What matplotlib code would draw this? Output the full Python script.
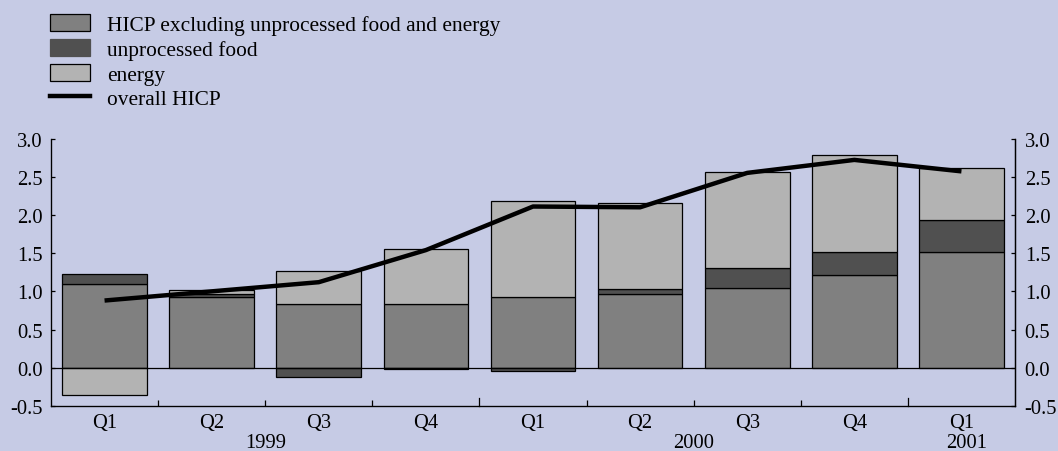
import numpy as np
import matplotlib
matplotlib.use("Agg")
import matplotlib.pyplot as plt
from matplotlib.patches import Patch
from matplotlib.lines import Line2D

# quarterly contributions (percentage points) and overall HICP
quarters = ["Q1", "Q2", "Q3", "Q4", "Q1", "Q2", "Q3", "Q4", "Q1"]
years = ["1999", "2000", "2001"]
year_pos = [1.5, 5.5, 8.05]
core = [1.10, 0.92, 0.84, 0.83, 0.92, 0.97, 1.05, 1.22, 1.51]
food = [0.13, 0.04, -0.12, -0.02, -0.04, 0.06, 0.26, 0.30, 0.42]
energy = [-0.35, 0.06, 0.42, 0.72, 1.26, 1.12, 1.25, 1.26, 0.68]
hicp = [0.88, 1.00, 1.12, 1.54, 2.11, 2.10, 2.55, 2.72, 2.57]

BG = "#C6CBE5"
C_CORE = "#808080"
C_FOOD = "#505050"
C_ENERGY = "#B3B3B3"

plt.rcParams["font.family"] = ["Liberation Serif", "DejaVu Serif"]
plt.rcParams["font.size"] = 14.8

fig = plt.figure(figsize=(10.58, 4.52), dpi=100, facecolor=BG)
ax = fig.add_axes([51 / 1058, 1 - 407 / 452, 964 / 1058, 267.5 / 452])
ax.set_facecolor(BG)

x = np.arange(len(quarters))
w = 0.79

# stack positives upward and negatives downward
pos_base = np.zeros(len(x))
neg_base = np.zeros(len(x))
for vals, col in [(core, C_CORE), (food, C_FOOD), (energy, C_ENERGY)]:
    v = np.array(vals)
    bottom = np.where(v >= 0, pos_base, neg_base)
    ax.bar(x, v, w, bottom=bottom, color=col, edgecolor="black", linewidth=0.9)
    pos_base += np.where(v >= 0, v, 0)
    neg_base += np.where(v < 0, v, 0)

ax.plot(x, hicp, color="black", lw=3.2, solid_capstyle="butt", zorder=5)
ax.axhline(0, color="black", lw=0.9)

yt = np.arange(-0.5, 3.01, 0.5)
ax.set_xlim(-0.5, 8.5)
ax.set_ylim(-0.5, 3.0)
ax.set_yticks(yt)
ax.set_yticklabels([f"{t:.1f}" for t in yt])
ax.tick_params(axis="y", direction="in", length=3, width=0.9, pad=6)

ax2 = ax.twinx()
ax2.set_ylim(-0.5, 3.0)
ax2.set_yticks(yt)
ax2.set_yticklabels([f"{t:.1f}" for t in yt])
ax2.tick_params(axis="y", direction="in", length=3, width=0.9, pad=7)
ax2.spines["top"].set_visible(False)
ax2.spines["right"].set_linewidth(0.9)

# category labels and boundary ticks
ax.set_xticks(x)
ax.set_xticklabels(quarters)
ax.tick_params(axis="x", length=0, pad=5)
ax.set_xticks([0.5, 1.5, 2.5, 4.5, 5.5, 6.5], minor=True)
ax.tick_params(axis="x", which="minor", direction="in", length=4, width=0.9)
for b in [3.5, 7.5]:
    ax.plot([b, b], [0, 0.03], transform=ax.get_xaxis_transform(),
            color="black", lw=0.9, clip_on=False)
for yr, p in zip(years, year_pos):
    ax.text(p, -0.135, yr, ha="center", va="center",
            transform=ax.get_xaxis_transform())

for s in ["left", "right", "bottom"]:
    ax.spines[s].set_linewidth(0.9)
ax.spines["top"].set_visible(False)

handles = [
    Patch(facecolor=C_CORE, edgecolor="black", linewidth=0.9),
    Patch(facecolor=C_FOOD, edgecolor=C_FOOD, linewidth=0.9),
    Patch(facecolor=C_ENERGY, edgecolor="black", linewidth=0.9),
    Line2D([], [], color="black", lw=3.2),
]
labels = ["HICP excluding unprocessed food and energy", "unprocessed food",
          "energy", "overall HICP"]
fig.legend(handles, labels, loc="upper left", fontsize=15.4,
           bbox_to_anchor=(50 / 1058, 1 - 15 / 452), frameon=False,
           borderpad=0, borderaxespad=0, handlelength=1.87, handleheight=0.85,
           handletextpad=0.8, labelspacing=0.18)

fig.savefig("out.png", dpi=100, facecolor=BG)
